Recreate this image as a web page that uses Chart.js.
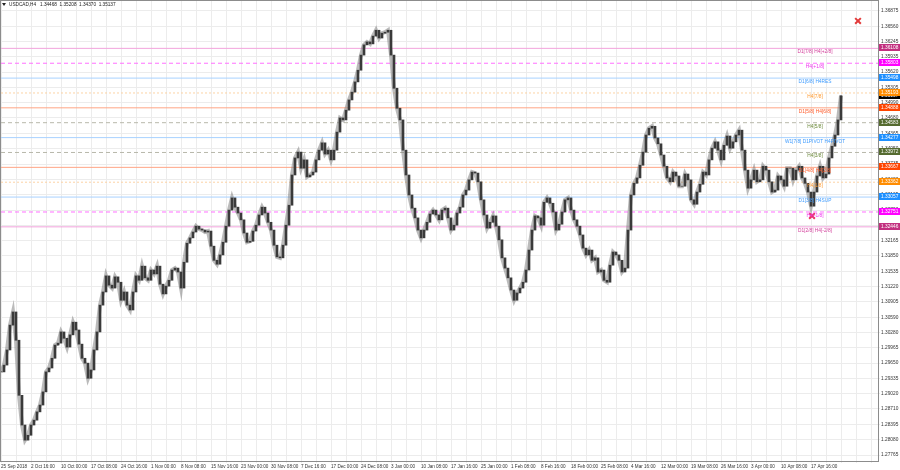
<!DOCTYPE html>
<html>
<head>
<meta charset="utf-8">
<script src="https://cdn.jsdelivr.net/npm/chart.js@4.4.1/dist/chart.umd.min.js"></script>
<style>
  html, body { margin: 0; padding: 0; background: #fff; }
  #wrap { width: 900px; height: 470px; }
</style>
</head>
<body>
<div id="wrap"><canvas id="c" width="900" height="470"></canvas></div>
<script>
// USDCAD H4, one close every 3 bars (12h)
const closes = [
  1.2947, 1.2961, 1.2992, 1.3043, 1.3070, 1.3012, 1.2899, 1.2838, 1.2807, 1.2817,
  1.2838, 1.2848, 1.2865, 1.2879, 1.2906, 1.2947, 1.2955, 1.2975, 1.3002, 1.3006,
  1.3029, 1.3016, 1.2998, 1.3023, 1.3049, 1.3033, 1.3004, 1.2975, 1.2965, 1.2934,
  1.2951, 1.2992, 1.3029, 1.3084, 1.3111, 1.3144, 1.3125, 1.3119, 1.3142, 1.3131,
  1.3094, 1.3111, 1.3084, 1.3074, 1.3111, 1.3144, 1.3135, 1.3164, 1.3140, 1.3135,
  1.3156, 1.3148, 1.3164, 1.3127, 1.3107, 1.3123, 1.3135, 1.3156, 1.3160, 1.3152,
  1.3119, 1.3172, 1.3211, 1.3222, 1.3234, 1.3246, 1.3240, 1.3238, 1.3234, 1.3236,
  1.3205, 1.3176, 1.3168, 1.3187, 1.3213, 1.3246, 1.3279, 1.3304, 1.3285, 1.3273,
  1.3259, 1.3232, 1.3213, 1.3215, 1.3236, 1.3248, 1.3269, 1.3285, 1.3273, 1.3254,
  1.3238, 1.3207, 1.3183, 1.3181, 1.3207, 1.3248, 1.3289, 1.3351, 1.3386, 1.3398,
  1.3365, 1.3382, 1.3347, 1.3351, 1.3357, 1.3382, 1.3402, 1.3417, 1.3394, 1.3402,
  1.3382, 1.3402, 1.3439, 1.3468, 1.3464, 1.3484, 1.3505, 1.3521, 1.3542, 1.3566,
  1.3597, 1.3618, 1.3624, 1.3620, 1.3636, 1.3648, 1.3632, 1.3642, 1.3644, 1.3648,
  1.3597, 1.3529, 1.3488, 1.3464, 1.3402, 1.3351, 1.3310, 1.3283, 1.3263, 1.3238,
  1.3222, 1.3238, 1.3254, 1.3271, 1.3279, 1.3269, 1.3259, 1.3279, 1.3283, 1.3263,
  1.3238, 1.3248, 1.3273, 1.3285, 1.3310, 1.3320, 1.3341, 1.3357, 1.3355, 1.3337,
  1.3300, 1.3269, 1.3242, 1.3254, 1.3267, 1.3246, 1.3218, 1.3181, 1.3160, 1.3140,
  1.3115, 1.3094, 1.3109, 1.3119, 1.3131, 1.3156, 1.3197, 1.3238, 1.3267, 1.3263,
  1.3248, 1.3295, 1.3304, 1.3293, 1.3275, 1.3238, 1.3250, 1.3275, 1.3300, 1.3304,
  1.3279, 1.3259, 1.3246, 1.3228, 1.3201, 1.3187, 1.3197, 1.3176, 1.3181, 1.3152,
  1.3156, 1.3135, 1.3131, 1.3166, 1.3193, 1.3187, 1.3176, 1.3152, 1.3160, 1.3238,
  1.3310, 1.3334, 1.3345, 1.3371, 1.3398, 1.3433, 1.3447, 1.3451, 1.3427, 1.3415,
  1.3392, 1.3369, 1.3345, 1.3337, 1.3357, 1.3349, 1.3328, 1.3328, 1.3353, 1.3341,
  1.3300, 1.3291, 1.3316, 1.3332, 1.3357, 1.3351, 1.3382, 1.3406, 1.3419, 1.3402,
  1.3382, 1.3412, 1.3431, 1.3406, 1.3419, 1.3433, 1.3443, 1.3402, 1.3361, 1.3324,
  1.3341, 1.3361, 1.3337, 1.3341, 1.3369, 1.3361, 1.3337, 1.3316, 1.3320, 1.3349,
  1.3341, 1.3328, 1.3365, 1.3365, 1.3341, 1.3361, 1.3369, 1.3345, 1.3334, 1.3316,
  1.3287, 1.3316, 1.3349, 1.3369, 1.3345, 1.3353, 1.3386, 1.3410, 1.3433, 1.3464,
  1.35137
];
const barStep = 3;

const timeLabels = [
  "25 Sep 2018", "2 Oct 16:00", "10 Oct 00:00", "17 Oct 08:00", "24 Oct 16:00",
  "1 Nov 00:00", "8 Nov 08:00", "15 Nov 16:00", "23 Nov 00:00", "30 Nov 08:00",
  "7 Dec 16:00", "17 Dec 00:00", "24 Dec 08:00", "3 Jan 00:00", "10 Jan 08:00",
  "17 Jan 16:00", "25 Jan 00:00", "1 Feb 08:00", "8 Feb 16:00", "18 Feb 00:00",
  "25 Feb 08:00", "4 Mar 16:00", "12 Mar 00:00", "19 Mar 08:00", "26 Mar 16:00",
  "3 Apr 00:00", "10 Apr 08:00", "17 Apr 16:00"
];

const priceTicks = [
  1.27765, 1.28080, 1.28395, 1.28710, 1.29020, 1.29335, 1.29650, 1.29965, 1.30280, 1.30590,
  1.30905, 1.31220, 1.31535, 1.31850, 1.32165, 1.32480, 1.32790, 1.33105, 1.33420, 1.33735,
  1.34050, 1.34365, 1.34680, 1.34990, 1.35305, 1.35620, 1.35935, 1.36245, 1.36560, 1.36875
];

// Murrey-style levels
const levelPrices = [1.36108, 1.35803, 1.35498, 1.35193, 1.34888, 1.34583, 1.34277,
                     1.33972, 1.33667, 1.33362, 1.33057, 1.32751, 1.32446];
const levelNames = ["D1[7/8] H4[+2/8]", "H4[+1/8]", "D1[6/8] H4RES", "H4[7/8]", "D1[5/8] H4[6/8]",
                    "H4[5/8]", "W1[7/8] D1PIVOT H4PIVOT", "H4[3/8]", "D1[4/8] H4[2/8]", "H4[1/8]",
                    "D1[3/8] H4SUP", "H4[-1/8]", "D1[2/8] H4[-2/8]"];
const levelKinds = ["pink", "magenta", "blue", "orange", "red", "olive", "blue",
                    "olive", "red", "orange", "blue", "magenta", "pink"];

const ohlcTitle = ["USDCAD,H4", "1.34468", "1.35208", "1.34370", "1.35137"];

const crossBars = [857, 811];
const crossPrices = [1.36670, 1.32669];

const styles = {
  pink:    { line: "#f2a3dc", text: "#d23c9a", box: "#c2307f", dash: [] },
  magenta: { line: "#ff70ff", text: "#ee33ee", box: "#ff00ff", dash: [4, 3] },
  blue:    { line: "#a8d2ff", text: "#3d9bff", box: "#1e90ff", dash: [] },
  orange:  { line: "#fcd3a4", text: "#ff9a30", box: "#ff8c00", dash: [2, 2] },
  red:     { line: "#ffa585", text: "#ff5a28", box: "#ff4500", dash: [] },
  olive:   { line: "#b8b8aa", text: "#6e8b3d", box: "#556b2f", dash: [4, 3] }
};

const X_MAX = 877;
const FONT = "'Liberation Sans', Arial, sans-serif";

const closePts = closes.map((c, i) => ({ x: i * barStep, y: c }));
const bodies = closes.map((c, i) => ({ x: i * barStep, y: [i ? closes[i - 1] : c, c] }));

const levelSets = levelPrices.map((p, i) => {
  const st = styles[levelKinds[i]];
  return {
    type: "line",
    data: [{ x: 0, y: p }, { x: X_MAX, y: p }],
    borderColor: st.line,
    borderWidth: 1,
    borderDash: st.dash,
    pointRadius: 0,
    order: 5
  };
});

const noPad = s => { s.paddingTop = 0; s.paddingBottom = 0; s.paddingLeft = 0; s.paddingRight = 0; };

const overlay = {
  id: "overlay",
  afterDatasetsDraw(chart) {
    const ctx = chart.ctx;
    const y = chart.scales.y;
    ctx.save();
    ctx.font = "4.8px " + FONT;
    ctx.textAlign = "center";
    ctx.textBaseline = "top";
    levelPrices.forEach((p, i) => {
      ctx.fillStyle = styles[levelKinds[i]].text;
      ctx.fillText(levelNames[i], 815, Math.round(y.getPixelForValue(p)) + 1);
    });
    ctx.restore();
  },
  afterDraw(chart) {
    const ctx = chart.ctx;
    const y = chart.scales.y;
    const area = chart.chartArea;
    ctx.save();
    // frame
    ctx.strokeStyle = "#8c8c8c";
    ctx.lineWidth = 1;
    ctx.strokeRect(area.left - 0.5, area.top - 0.5, area.right - area.left + 1, area.bottom - area.top + 1);
    // price boxes
    ctx.font = "4.8px " + FONT;
    ctx.textAlign = "left";
    ctx.textBaseline = "middle";
    const boxes = [{ p: closes[closes.length - 1], c: "#000000" }].concat(
      levelPrices.map((p, i) => ({ p, c: styles[levelKinds[i]].box })));
    boxes.forEach(b => {
      const py = Math.round(y.getPixelForValue(b.p));
      ctx.fillStyle = b.c;
      ctx.fillRect(area.right + 1, py - 4, 21, 7);
      ctx.fillStyle = "#ffffff";
      ctx.fillText(b.p.toFixed(5), area.right + 3, py);
    });
    // title
    ctx.fillStyle = "#222";
    ctx.beginPath();
    ctx.moveTo(2, 3); ctx.lineTo(6, 3); ctx.lineTo(4, 6); ctx.closePath(); ctx.fill();
    ctx.font = "4.7px " + FONT;
    ctx.fillText(ohlcTitle[0] + "   " + ohlcTitle.slice(1).join("  "), 9, 5);
    ctx.restore();
  }
};

new Chart(document.getElementById("c"), {
  data: {
    datasets: levelSets.concat([
      {
        type: "line",
        data: closePts,
        borderColor: "rgba(120,120,120,0.5)",
        borderWidth: 4,
        pointRadius: 0,
        tension: 0,
        order: 3
      },
      {
        type: "bar",
        data: bodies,
        backgroundColor: "#3a3a3a",
        borderWidth: 0,
        barThickness: 2,
        order: 2
      },
      {
        type: "scatter",
        data: crossBars.map((b, i) => ({ x: b, y: crossPrices[i] })),
        pointStyle: "crossRot",
        pointRadius: 4,
        borderWidth: 2,
        borderColor: ["#e23a3a", "#e8305a"],
        order: 0
      }
    ])
  },
  options: {
    responsive: false,
    animation: false,
    devicePixelRatio: 1,
    layout: { autoPadding: false, padding: { left: 1, top: 1, right: 0, bottom: 0 } },
    plugins: { legend: { display: false }, tooltip: { enabled: false } },
    scales: {
      x: {
        type: "linear",
        offset: false,
        min: 0,
        max: X_MAX,
        afterFit: s => { s.height = 9; noPad(s); },
        afterBuildTicks: s => {
          const t = [];
          for (let v = 0; v <= X_MAX; v += 15) t.push({ value: v });
          s.ticks = t;
        },
        ticks: {
          autoSkip: false,
          maxRotation: 0,
          align: "start",
          padding: 1,
          color: "#333",
          font: { size: 4.6, family: FONT },
          callback: v => (v % 30 === 0 && timeLabels[v / 30]) ? timeLabels[v / 30] : ""
        },
        grid: { color: "#ececec", tickLength: 2, drawTicks: true, offset: false },
        border: { display: false }
      },
      y: {
        position: "right",
        min: 1.27642,
        max: 1.37080,
        afterFit: s => { s.width = 22; noPad(s); },
        afterBuildTicks: s => { s.ticks = priceTicks.map(v => ({ value: v })); },
        ticks: {
          padding: 1,
          color: "#333",
          font: { size: 4.8, family: FONT },
          callback: v => v.toFixed(5)
        },
        grid: { color: "#ececec", tickLength: 2 },
        border: { display: false }
      }
    }
  },
  plugins: [overlay]
});
</script>
</body>
</html>
